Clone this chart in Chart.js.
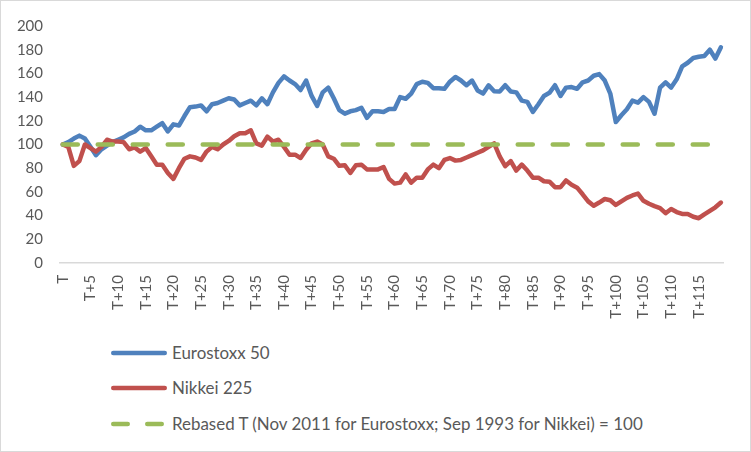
<!DOCTYPE html>
<html><head><meta charset="utf-8">
<script src="https://cdn.jsdelivr.net/npm/chart.js@4.4.1/dist/chart.umd.min.js"></script>
<style>
html,body{margin:0;padding:0;background:#fff;}
#wrap{position:relative;width:751px;height:452px;overflow:hidden;background:#fff;}
#frame{position:absolute;left:0;top:0;width:751px;height:452px;box-sizing:border-box;border:1px solid #d9d9d9;pointer-events:none;}
#c{position:absolute;left:0;top:0;}
.sw{position:absolute;left:106px;width:64px;height:12px;}
.lt{position:absolute;left:172px;height:24px;line-height:24px;font-family:Lato,sans-serif;color:#595959;white-space:nowrap;}
</style></head>
<body>
<div id="wrap">
<canvas id="c" width="751" height="335"></canvas>
<svg class="sw" style="top:347px"><line x1="7.3" y1="6" x2="58.7" y2="6" stroke="#4F81BD" stroke-width="4.6" stroke-linecap="round"/></svg>
<div class="lt" id="l1" style="top:341px"></div>
<svg class="sw" style="top:382px"><line x1="7.3" y1="6" x2="58.7" y2="6" stroke="#C0504D" stroke-width="4.6" stroke-linecap="round"/></svg>
<div class="lt" id="l2" style="top:376px"></div>
<svg class="sw" style="top:418px"><line x1="7.3" y1="6" x2="56.7" y2="6" stroke="#9BBB59" stroke-width="4.6" stroke-linecap="round" stroke-dasharray="14.4 19.6"/></svg>
<div class="lt" id="l3" style="top:412px"></div>
<div id="frame"></div>
</div>
<script>
const categories = [];
for (let i = 0; i < 120; i++) categories.push(i === 0 ? 'T' : 'T+' + i);

const seriesNames = ['Eurostoxx 50', 'Nikkei 225', 'Rebased T (Nov 2011 for Eurostoxx; Sep 1993 for Nikkei) = 100'];

const eurostoxx = [
100,102,105,107.5,105,98,91,96,99,102,
104,106,109,111,115,112,112,115,118,111,
117,116,124,131.5,132,133,128,134,135,137,
139,138,133,135,137,133,139,134,144,152,
157.5,154,151,146,154,141,132.5,144,148,139,
129,126,128,129,131,122.5,128,128,127.5,130,
130,140,138.6,143,151,153,152,147.5,147.5,147,
153,157,154,150,154,145.6,143,150,145,144.7,
150,144.7,144,137,136,127.5,134,141,143.6,150,
141,148,148.5,147,152.5,154,158,159.4,154,143,
119,124.7,129.7,137,135.3,140,136,126,148,152.5,
148,155,166,169,173,174,174.7,180,172.5,182
];

const nikkei = [
100,98,82,86,100,97,94,98,104,102.5,
102.5,102,96,97.5,94,97,90,83,83,76,
71,80,88,90,89,87,94,98,96,100,
103,107,109.5,109.5,112,101,99,106.7,102.5,104,
98,91.4,91.4,88.6,95.6,101,102.5,100,90,88,
82,82.5,76,82.5,83,79,79,79,81,71,
67,67.8,74.7,67.8,72,72,79,83,80,87,
88.6,86.4,87,89,91,93,95,98,101,90,
81.7,86,78,83,78,72,72,69,68.6,64,
64,69.7,66,63.6,58,52,48.3,51,54,53,
49,52,55,57,58.6,52.5,50,48,46.4,42,
45.6,43,41.4,41.4,39,37.8,41,44,47,51
];

const rebased = [
100,100,100,100,100,100,100,100,100,100,
100,100,100,100,100,100,100,100,100,100,
100,100,100,100,100,100,100,100,100,100,
100,100,100,100,100,100,100,100,100,100,
100,100,100,100,100,100,100,100,100,100,
100,100,100,100,100,100,100,100,100,100,
100,100,100,100,100,100,100,100,100,100,
100,100,100,100,100,100,100,100,100,100,
100,100,100,100,100,100,100,100,100,100,
100,100,100,100,100,100,100,100,100,100,
100,100,100,100,100,100,100,100,100,100,
100,100,100,100,100,100,100,100,100,100
];

const yTicks = [0,20,40,60,80,100,120,140,160,180,200];

// legend texts
const mctx = document.createElement('canvas').getContext('2d');
mctx.font = '16px Lato';
let fs = 16 * 473 / mctx.measureText(seriesNames[2]).width;
['l1','l2','l3'].forEach((id, i) => {
  const el = document.getElementById(id);
  el.textContent = seriesNames[i];
  el.style.fontSize = fs.toFixed(2) + 'px';
});

const tickFont = {family: 'Lato', size: 15};

new Chart(document.getElementById('c'), {
  type: 'line',
  data: {
    labels: categories,
    datasets: [
      {label: seriesNames[0], data: eurostoxx, borderColor: '#4F81BD', backgroundColor: '#4F81BD', borderWidth: 4.5, pointRadius: 0, tension: 0, fill: false, borderCapStyle: 'round', borderJoinStyle: 'round', order: 3},
      {label: seriesNames[1], data: nikkei, borderColor: '#C0504D', backgroundColor: '#C0504D', borderWidth: 4.5, pointRadius: 0, tension: 0, fill: false, borderCapStyle: 'round', borderJoinStyle: 'round', order: 2},
      {label: seriesNames[2], data: rebased, borderColor: '#9BBB59', backgroundColor: '#9BBB59', borderWidth: 4.6, pointRadius: 0, tension: 0, fill: false, borderCapStyle: 'round', borderDash: [15, 20], order: 1}
    ]
  },
  options: {
    responsive: false,
    animation: false,
    devicePixelRatio: 1,
    layout: {padding: {top: 23, right: 24, left: 0, bottom: 0}},
    plugins: {legend: {display: false}, tooltip: {enabled: false}},
    scales: {
      x: {
        offset: true,
        grid: {display: false, drawTicks: false},
        border: {display: true, color: '#d9d9d9', width: 1.5},
        ticks: {
          autoSkip: false, maxRotation: 90, minRotation: 90, padding: 12,
          color: '#595959', font: tickFont,
          callback: function (v, i) { return i % 5 === 0 ? this.getLabelForValue(v) : ''; }
        },
        afterFit: s => { s.height = 72; }
      },
      y: {
        min: 0, max: 200,
        afterBuildTicks: s => { s.ticks = yTicks.map(v => ({value: v})); },
        grid: {display: false, drawTicks: false},
        border: {display: false},
        ticks: {padding: 17, color: '#595959', font: tickFont},
        afterFit: s => { s.width = 60; }
      }
    }
  }
});
</script>
</body></html>
